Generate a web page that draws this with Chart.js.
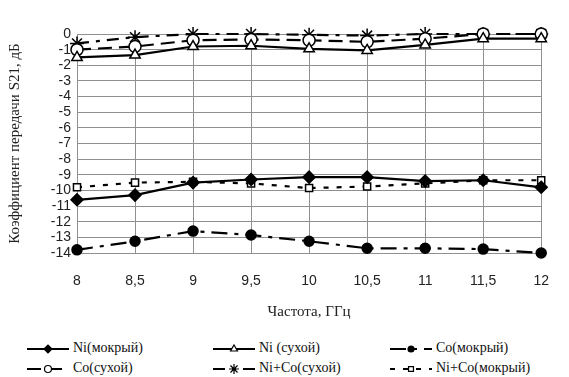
<!DOCTYPE html>
<html>
<head>
<meta charset="utf-8">
<script src="https://cdn.jsdelivr.net/npm/chart.js@4/dist/chart.umd.min.js"></script>
<style>
  body { margin: 0; background: #fff; }
  #wrap { position: relative; width: 569px; height: 377px; }
  #box { position: absolute; left: 0; top: 0; width: 569px; height: 325px; }
  .leg { position: absolute; font-family: "Liberation Serif", "Times New Roman", serif; font-size: 14px; color: #111; height: 20px; line-height: 20px; white-space: nowrap; }
  .leg canvas { vertical-align: middle; margin-right: 4px; }
</style>
</head>
<body>
<div id="wrap">
  <div id="box"><canvas id="chart"></canvas></div>
  <div id="legend"></div>
</div>
<script>
// частоты, ГГц
const freq = ['8', '8,5', '9', '9,5', '10', '10,5', '11', '11,5', '12'];
// S21, дБ
const niWet = [-10.6, -10.3, -9.5, -9.3, -9.15, -9.15, -9.4, -9.35, -9.8];
const niDry = [-1.5, -1.35, -0.8, -0.75, -0.95, -1.05, -0.7, -0.3, -0.3];
const coWet = [-13.8, -13.25, -12.6, -12.85, -13.25, -13.7, -13.7, -13.75, -14.0];
const coDry = [-1.0, -0.8, -0.4, -0.35, -0.4, -0.5, -0.3, 0, 0];
const nicoDry = [-0.6, -0.2, 0, 0, -0.05, -0.1, 0, 0, 0];
const nicoWet = [-9.8, -9.5, -9.45, -9.55, -9.85, -9.75, -9.55, -9.35, -9.35];

const yMin = -14, yMax = 0;

const series = [
  { label: 'Ni(мокрый)', data: niWet, dash: [], point: 'rectRot', r: 6, lr: 4, fill: '#000' },
  { label: 'Ni (сухой)', data: niDry, dash: [], point: 'triangle', r: 6, lr: 4, fill: '#fff' },
  { label: 'Co(мокрый)', data: coWet, dash: [16, 7, 4, 7], point: 'circle', r: 5, lr: 3, fill: '#000' },
  { label: 'Co(сухой)', data: coDry, dash: [14, 7], point: 'circle', r: 6, lr: 3.5, fill: '#fff' },
  { label: 'Ni+Co(сухой)', data: nicoDry, dash: [12, 7, 4, 7], point: 'star', r: 7, lr: 5, fill: '#fff' },
  { label: 'Ni+Co(мокрый)', data: nicoWet, dash: [5, 8], point: 'rect', r: 5, lr: 3.5, fill: '#fff' }
];

const ctx = document.getElementById('chart').getContext('2d');
const chart = new Chart(ctx, {
  type: 'line',
  data: {
    labels: freq,
    datasets: series.map(s => ({
      label: s.label,
      data: s.data,
      borderColor: '#000',
      borderWidth: 2.2,
      borderDash: s.dash,
      pointStyle: s.point,
      pointRadius: s.r,
      pointBorderWidth: 1.5,
      pointBorderColor: '#000',
      pointBackgroundColor: s.fill,
      tension: 0,
      fill: false,
      clip: false
    }))
  },
  options: {
    responsive: true,
    maintainAspectRatio: false,
    animation: false,
    layout: { padding: { top: 34, right: 25, left: 6, bottom: 0 } },
    plugins: { legend: { display: false }, tooltip: { enabled: false } },
    scales: {
      x: {
        offset: false,
        grid: { color: '#909090', lineWidth: 1, drawTicks: false },
        border: { color: '#909090' },
        ticks: { color: '#222', font: { family: 'Liberation Sans', size: 14 }, padding: 20, maxRotation: 0 },
        title: { display: true, text: 'Частота, ГГц', color: '#222', font: { family: 'Liberation Serif', size: 15 }, padding: { top: 8 } },
        afterFit: (s) => { s.height = 72; }
      },
      y: {
        min: yMin,
        max: yMax,
        grid: { color: '#909090', lineWidth: 1, drawTicks: false },
        border: { color: '#909090' },
        ticks: { stepSize: 1, autoSkip: false, color: '#222', font: { family: 'Liberation Sans', size: 14, lineHeight: 1 }, padding: 6 },
        title: { display: true, text: 'Коэффициент передачи S21, дБ', color: '#222', font: { family: 'Liberation Serif', size: 15 }, padding: 0 },
        afterFit: (s) => { s.width = 71; }
      }
    }
  }
});

// легенда: 3 колонки, 2 строки
const legPos = [[27, 338], [213, 338], [390, 338], [27, 358], [213, 358], [390, 358]];
const legend = document.getElementById('legend');
series.forEach((s, i) => {
  const div = document.createElement('div');
  div.className = 'leg';
  div.style.left = legPos[i][0] + 'px';
  div.style.top = legPos[i][1] + 'px';
  const c = document.createElement('canvas');
  c.width = 42; c.height = 16;
  const g = c.getContext('2d');
  g.strokeStyle = '#000';
  g.lineWidth = 2.2;
  g.setLineDash(s.dash);
  g.beginPath(); g.moveTo(0, 8); g.lineTo(42, 8); g.stroke();
  g.setLineDash([]);
  g.fillStyle = s.fill;
  g.lineWidth = 1.2;
  Chart.helpers.drawPoint(g, { pointStyle: s.point, radius: s.lr, borderWidth: 1.2 }, 21, 8);
  div.appendChild(c);
  div.appendChild(document.createTextNode(s.label));
  legend.appendChild(div);
});
</script>
</body>
</html>
